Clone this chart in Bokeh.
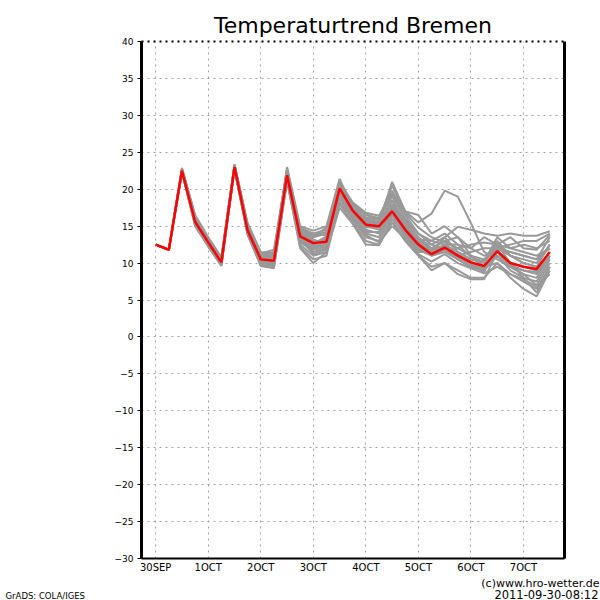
from bokeh.plotting import figure
from bokeh.models import LinearAxis, FixedTicker, Range1d
from bokeh.layouts import column, row
from bokeh.core.properties import value
from bokeh.embed import file_html
from bokeh.resources import INLINE

# ---- data ----
step_hours = [0, 6, 12, 18, 24, 30, 36, 42, 48, 54, 60, 66, 72, 78, 84, 90,
              96, 102, 108, 114, 120, 126, 132, 138, 144, 150, 156, 162, 168, 174, 180]

x_tick_days = [0, 1, 2, 3, 4, 5, 6, 7]
x_tick_labels = ["30SEP", "1OCT", "2OCT", "3OCT", "4OCT", "5OCT", "6OCT", "7OCT"]
y_ticks = [-30, -25, -20, -15, -10, -5, 0, 5, 10, 15, 20, 25, 30, 35, 40]

control = [12.5, 11.8, 22.5, 15.6, 12.8, 10.1, 23.0, 14.4, 10.5, 10.3, 21.9, 13.6, 12.7, 12.9, 20.1, 17.1,
           15.2, 15.0, 17.0, 14.5, 12.5, 11.2, 12.1, 11.0, 10.1, 9.6, 11.6, 10.0, 9.5, 9.2, 11.5]

m01 = [12.5, 11.8, 22.7, 16.2, 13.2, 10.5, 23.3, 15.0, 11.0, 11.5, 22.5, 14.5, 13.8, 14.2, 20.5, 18.0,
       16.5, 16.0, 20.5, 16.5, 14.0, 13.0, 12.5, 11.5, 10.5, 10.0, 12.5, 11.0, 10.5, 10.0, 12.5]
m02 = [12.5, 11.8, 22.4, 15.3, 12.5, 9.8, 22.8, 14.0, 10.0, 9.8, 21.5, 13.0, 11.5, 12.0, 19.5, 16.5,
       14.5, 14.0, 17.5, 14.0, 12.0, 11.0, 11.5, 10.5, 9.5, 9.0, 11.0, 9.0, 8.0, 7.5, 10.5]
m03 = [12.5, 11.8, 22.9, 16.5, 13.5, 10.8, 23.4, 15.4, 11.5, 11.2, 23.0, 15.0, 14.4, 15.0, 21.4, 17.5,
       15.5, 15.5, 21.0, 17.0, 15.5, 16.7, 19.8, 19.0, 15.4, 11.5, 10.5, 9.5, 8.5, 8.0, 11.0]
m04 = [12.5, 11.8, 22.5, 15.8, 12.9, 10.2, 23.1, 14.8, 10.8, 10.6, 22.0, 13.5, 12.5, 13.5, 20.0, 17.0,
       16.0, 15.5, 18.5, 15.0, 13.0, 12.5, 13.5, 14.9, 14.5, 14.0, 13.7, 14.0, 13.7, 13.7, 14.3]
m05 = [12.5, 11.8, 22.3, 15.0, 12.2, 9.6, 22.7, 13.8, 9.6, 9.3, 21.0, 12.0, 10.0, 11.5, 18.0, 15.5,
       13.0, 12.5, 15.5, 13.0, 11.0, 9.5, 10.0, 9.0, 8.0, 8.0, 10.0, 8.0, 6.5, 5.5, 9.0]
m06 = [12.5, 11.8, 22.6, 16.0, 13.0, 10.3, 23.2, 14.6, 10.6, 10.9, 22.3, 14.0, 13.0, 13.0, 20.3, 17.5,
       15.5, 15.0, 17.5, 14.5, 12.5, 12.0, 13.0, 12.0, 11.0, 10.5, 12.0, 11.5, 11.0, 10.5, 12.0]
m07 = [12.5, 11.8, 22.5, 15.5, 12.6, 10.0, 22.9, 14.2, 10.2, 10.0, 21.8, 13.0, 12.0, 12.5, 19.0, 16.0,
       15.0, 14.5, 16.5, 13.5, 11.5, 11.5, 12.5, 12.5, 12.0, 13.5, 12.5, 12.0, 12.5, 12.0, 13.0]
m08 = [12.5, 11.8, 22.8, 16.4, 13.4, 10.6, 23.3, 15.2, 11.3, 11.8, 22.6, 14.8, 14.0, 14.5, 21.0, 18.2,
       16.8, 16.4, 19.5, 17.0, 16.5, 14.0, 15.0, 13.5, 12.0, 11.0, 11.5, 10.0, 9.5, 9.0, 11.5]
m09 = [12.5, 11.8, 22.4, 15.2, 12.4, 9.7, 22.8, 13.9, 9.8, 9.5, 21.2, 12.5, 11.0, 11.5, 17.5, 15.3,
       12.5, 12.4, 16.0, 13.0, 11.0, 9.0, 10.0, 8.5, 7.8, 7.8, 11.5, 9.5, 8.5, 7.0, 10.0]
m10 = [12.5, 11.8, 22.6, 15.9, 13.1, 10.4, 23.0, 14.5, 10.4, 10.2, 22.0, 13.8, 12.8, 13.2, 20.0, 17.2,
       15.5, 15.5, 18.5, 15.5, 13.0, 12.0, 12.0, 11.0, 10.0, 9.5, 11.0, 9.5, 9.0, 8.5, 11.0]
m11 = [12.5, 11.8, 22.5, 15.7, 12.7, 10.1, 23.1, 14.7, 10.9, 10.8, 21.6, 13.2, 12.3, 12.8, 19.8, 16.8,
       14.8, 15.0, 17.8, 14.8, 12.8, 11.5, 13.5, 11.5, 10.5, 10.0, 13.0, 11.0, 10.0, 9.5, 12.5]
m12 = [12.5, 11.8, 22.7, 16.1, 13.3, 10.7, 23.2, 15.1, 11.1, 10.4, 22.8, 14.2, 13.5, 14.0, 20.8, 17.8,
       16.0, 16.2, 19.0, 16.0, 14.0, 12.5, 12.0, 10.5, 9.5, 10.5, 12.0, 12.5, 13.0, 13.0, 14.0]
m13 = [12.5, 11.8, 22.4, 15.4, 12.5, 9.9, 22.9, 14.1, 10.1, 9.7, 21.4, 12.8, 11.8, 12.2, 18.8, 16.2,
       14.0, 13.5, 17.0, 14.0, 12.0, 11.5, 12.5, 11.0, 10.0, 9.0, 12.5, 10.0, 8.0, 6.0, 9.5]
m14 = [12.5, 11.8, 22.6, 15.8, 12.8, 10.2, 23.0, 14.4, 10.7, 10.1, 22.2, 13.6, 12.6, 13.6, 19.6, 16.6,
       15.0, 14.8, 17.2, 14.2, 12.2, 11.8, 11.5, 11.0, 11.5, 12.0, 12.0, 11.0, 10.0, 9.5, 11.0]
m15 = [12.5, 11.8, 22.5, 15.6, 12.9, 10.3, 23.1, 14.9, 11.2, 11.0, 21.9, 14.2, 13.2, 12.5, 20.2, 17.6,
       16.2, 15.8, 19.8, 15.8, 13.5, 12.0, 13.0, 13.5, 11.0, 9.5, 10.0, 8.5, 7.5, 6.5, 9.5]
m16 = [12.5, 11.8, 22.5, 15.5, 12.6, 10.0, 22.9, 14.3, 10.3, 9.9, 22.4, 13.3, 11.2, 11.8, 19.2, 15.8,
       13.5, 13.0, 16.5, 13.8, 11.8, 11.0, 11.8, 10.8, 9.8, 8.8, 12.0, 11.5, 11.0, 10.5, 13.5]
m17 = [12.5, 11.8, 22.7, 16.3, 13.2, 10.6, 23.2, 15.0, 11.4, 11.3, 21.7, 14.6, 13.8, 13.8, 20.6, 17.3,
       15.8, 15.2, 18.0, 15.2, 13.2, 13.0, 14.0, 12.5, 10.8, 10.2, 13.5, 12.0, 11.5, 11.0, 12.0]
m18 = [12.5, 11.8, 22.4, 15.4, 12.5, 9.9, 22.8, 14.2, 10.0, 10.4, 22.1, 13.1, 12.2, 12.4, 19.4, 16.4,
       14.2, 14.2, 16.8, 14.6, 12.6, 11.4, 12.2, 11.2, 10.2, 9.2, 11.8, 9.8, 9.0, 8.8, 10.8]
m19 = [12.5, 11.8, 22.3, 15.2, 12.3, 9.7, 22.7, 13.9, 9.7, 9.6, 21.3, 12.2, 10.5, 11.0, 18.3, 16.0,
       13.8, 12.8, 15.0, 13.3, 11.2, 10.2, 11.2, 10.0, 9.3, 8.6, 9.5, 8.5, 7.8, 6.8, 8.5]
m20 = [12.5, 11.8, 22.8, 16.2, 13.3, 10.5, 23.3, 15.1, 10.9, 11.1, 22.7, 14.4, 13.6, 14.8, 20.9, 17.9,
       16.6, 16.0, 19.2, 16.8, 14.8, 13.5, 12.8, 12.0, 12.5, 12.8, 12.5, 13.5, 12.0, 11.8, 13.8]

members = [m01, m02, m03, m04, m05, m06, m07, m08, m09, m10,
           m11, m12, m13, m14, m15, m16, m17, m18, m19, m20]

title_text = "Temperaturtrend Bremen"
credit_text = "(c)www.hro-wetter.de"
date_text = "2011-09-30-08:12"
grads_text = "GrADS: COLA/IGES"

x_days = [h / 24.0 for h in step_hours]

font = "DejaVu Sans"

# ---- main figure ----
p = figure(width=600, height=575, output_backend="svg", toolbar_location=None,
           x_range=Range1d(-0.27, 7.78), y_range=Range1d(-30, 40),
           min_border_left=141, min_border_right=36, min_border_top=41, min_border_bottom=16,
           x_axis_location=None, y_axis_location=None)
p.outline_line_color = None
p.background_fill_color = "white"
p.border_fill_color = "white"

p.title.text = title_text
p.title.align = "center"
p.title.text_font = font
p.title.text_font_size = "22px"
p.title.text_font_style = "normal"
p.title.text_color = "black"
p.title.standoff = 8

for m in members:
    p.line(x_days, m, line_color="#999999", line_width=2)
p.line(x_days, control, line_color="#ff0000", line_width=2.5)

xaxis = LinearAxis(ticker=FixedTicker(ticks=x_tick_days),
                   major_label_overrides={t: l for t, l in zip(x_tick_days, x_tick_labels)},
                   axis_line_width=2, axis_line_color="black",
                   major_tick_in=0, major_tick_out=0, minor_tick_line_color=None,
                   major_label_standoff=3, major_label_text_font=font,
                   major_label_text_font_size="10px", major_label_text_color="black")
p.add_layout(xaxis, "below")

yaxis = LinearAxis(ticker=FixedTicker(ticks=y_ticks),
                   axis_line_width=3, axis_line_color="black",
                   major_tick_in=0, major_tick_out=4, major_tick_line_color="black",
                   minor_tick_line_color=None,
                   major_label_standoff=4, major_label_text_font=font,
                   major_label_text_font_size="9px", major_label_text_color="black")
p.add_layout(yaxis, "left")

raxis = LinearAxis(ticker=FixedTicker(ticks=[]), axis_line_width=3, axis_line_color="black",
                   major_tick_line_color=None, minor_tick_line_color=None,
                   major_label_text_alpha=0)
p.add_layout(raxis, "right")

taxis = LinearAxis(ticker=FixedTicker(ticks=[]), axis_line_width=2, axis_line_color="black",
                   axis_line_dash="2 4",
                   major_tick_line_color=None, minor_tick_line_color=None,
                   major_label_text_alpha=0)
p.add_layout(taxis, "above")

p.xgrid.ticker = FixedTicker(ticks=x_tick_days)
p.ygrid.ticker = FixedTicker(ticks=y_ticks)
for g in (p.xgrid, p.ygrid):
    g.grid_line_color = "#a0a0a0"
    g.grid_line_dash = "2 4"
    g.grid_line_width = 1

# ---- footer strip (pixel coordinates, y measured from its top) ----
f = figure(width=600, height=25, output_backend="svg", toolbar_location=None,
           x_range=Range1d(0, 600), y_range=Range1d(25, 0),
           min_border=0, x_axis_location=None, y_axis_location=None)
f.outline_line_color = None
f.xgrid.visible = False
f.ygrid.visible = False
f.text(x=[599], y=[8], text=[credit_text], text_align="right", text_baseline="middle",
       text_font=value(font), text_font_size="11px", text_color="black")
f.text(x=[598], y=[19], text=[date_text], text_align="right", text_baseline="middle",
       text_font=value(font), text_font_size="11.5px", text_color="black")
f.text(x=[5], y=[20], text=[grads_text], text_align="left", text_baseline="middle",
       text_font=value(font), text_font_size="8.5px", text_color="black")

layout = column(row(p), row(f), spacing=0)
open("out.html", "w").write(file_html(layout, INLINE))
